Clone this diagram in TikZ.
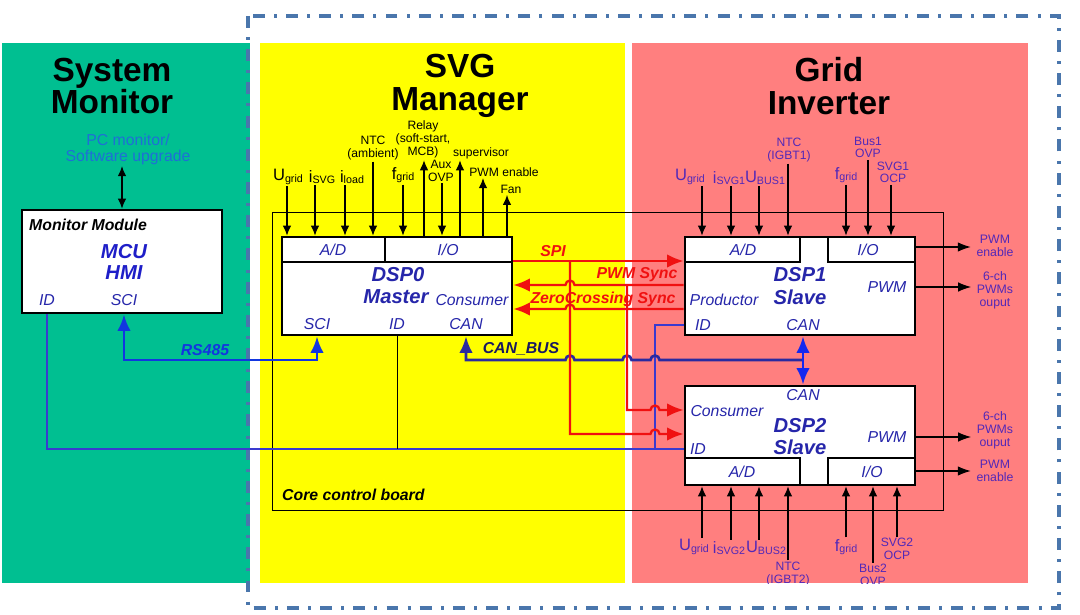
\documentclass[tikz,border=0pt]{standalone}
\usepackage{fontspec}
\setmainfont{Liberation Sans}
\usetikzlibrary{arrows.meta,positioning}

\definecolor{smgreen}{HTML}{00BF91}
\definecolor{svgyellow}{HTML}{FFFF00}
\definecolor{invpink}{HTML}{FF7F7F}
\definecolor{frameblue}{HTML}{4A76AC}
\definecolor{dspblue}{HTML}{2626AA}
\definecolor{mcublue}{HTML}{1E1EC8}
\definecolor{sigpurple}{HTML}{5228B8}
\definecolor{pcblue}{HTML}{1F6FD6}
\definecolor{rsblue}{HTML}{1236E0}
\definecolor{canblue}{HTML}{2A2AA0}
\definecolor{linkblue}{HTML}{1428F0}
\definecolor{idblue}{HTML}{3A3AD0}
\definecolor{sigred}{HTML}{F01010}

\newcommand{\sigsym}[2]{{\fontsize{9.4}{10}\selectfont #1}\raisebox{-0.8pt}{\fontsize{6.1}{7}\selectfont #2}}

\begin{document}
\begin{tikzpicture}[
        x=0.02cm, y=-0.02cm,
        bigtip/.tip={Latex[length=0.33cm,width=0.27cm]},
        dspbox/.style={draw, line width=1.6pt, fill=white, inner sep=0pt},
        cell/.style={line width=0.6pt},
        heading/.style={font=\fontsize{19}{18.7}\selectfont\bfseries, align=center},
        boxtxt/.style={font=\fontsize{9}{10}\selectfont\itshape, text=dspblue, inner sep=0.5pt},
        dsptitle/.style={font=\fontsize{11.5}{12}\selectfont\bfseries\itshape, text=dspblue, inner sep=0.5pt, align=center},
        siglbl/.style={font=\fontsize{6.9}{7.2}\selectfont, align=center, inner sep=0.8pt},
        invlbl/.style={siglbl, text=sigpurple},
        outlbl/.style={invlbl, font=\fontsize{7}{7.5}\selectfont},
        buslbl/.style={font=\fontsize{9}{10}\selectfont\bfseries\itshape, inner sep=0.5pt},
        redlbl/.style={buslbl, text=sigred},
        inarrow/.style={-{Latex[length=0.2cm,width=0.17cm]}, line width=0.6pt},
        outarrow/.style={-{Latex[length=0.26cm,width=0.19cm]}, line width=0.6pt},
        redsig/.style={sigred, line width=1.3pt, -bigtip},
        canbus/.style={canblue, line width=1.5pt},
        idline/.style={idblue, line width=0.7pt}
    ]
        \useasboundingbox (0,0) rectangle (1080,615);

        % panels and frame
        \fill[smgreen] (2,43) rectangle (250,583);
        \fill[svgyellow] (260,43) rectangle (625,583);
        \fill[invpink] (632,43) rectangle (1028,583);
        \draw[frameblue, line width=2.3pt, dash pattern=on 6.8pt off 5.2pt on 1.7pt off 5.2pt] (248,16) rectangle (1059,608);

        \node[heading] (smhead) at (112,86) {System\\Monitor};
        \node[heading] (svghead) at (460,86) {SVG\\Manager};
        \node[heading] (invhead) at (829,86) {Grid\\Inverter};

        % core control board
        \draw[line width=0.5pt] (272,212) rectangle (943,510);
        \node[buslbl, anchor=west] (corelbl) at (281,495) {Core control board};

        % monitor module
        \node[dspbox, minimum width=4cm, minimum height=2.06cm] (mon) at (122,261.5) {};
        \node[buslbl, anchor=west] (monlbl) at (28,225) {Monitor Module};
        \node[dsptitle, text=mcublue] (mcu) at (124,262) {MCU\\HMI};
        \node[boxtxt] (mid) at (47,300) {ID};
        \node[boxtxt] (msci) at (124,300) {SCI};
        \node[siglbl, font=\fontsize{9}{9.2}\selectfont, text=pcblue] (pc) at (128,149) {PC monitor/\\Software upgrade};
        \draw[{Latex[length=0.2cm,width=0.17cm]}-{Latex[length=0.2cm,width=0.17cm]}, line width=0.6pt] (mon.north |- pc.south) -- (mon.north);

        % DSP0 master
        \node[dspbox, minimum width=4.6cm, minimum height=1.96cm] (dsp0) at (397,286) {};
        \draw[cell] (282,262) -- (512,262) (385,237) -- (385,262);
        \node[boxtxt] (d0ad) at (333,250) {A/D};
        \node[boxtxt] (d0io) at (448,250) {I/O};
        \node[dsptitle] (d0name) at (398,275) {DSP0};
        \node[dsptitle] (d0role) at (396,297) {Master};
        \node[boxtxt] (d0cons) at (472,300) {Consumer};
        \node[boxtxt] (d0sci) at (317,324) {SCI};
        \node[boxtxt] (d0id) at (397,324) {ID};
        \node[boxtxt] (d0can) at (466,324) {CAN};

        % DSP1 slave
        \node[dspbox, minimum width=4.6cm, minimum height=1.96cm] (dsp1) at (800,286) {};
        \draw[cell] (685,262) -- (800,262) -- (800,237) (828,237) -- (828,262) -- (915,262);
        \node[boxtxt] (d1ad) at (743,250) {A/D};
        \node[boxtxt] (d1io) at (868,250) {I/O};
        \node[dsptitle] (d1name) at (800,275) {DSP1};
        \node[dsptitle] (d1role) at (800,297) {Slave};
        \node[boxtxt] (d1prod) at (724,300) {Productor};
        \node[boxtxt] (d1pwm) at (887,287) {PWM};
        \node[boxtxt] (d1id) at (703,325) {ID};
        \node[boxtxt] (d1can) at (803,325) {CAN};

        % DSP2 slave
        \node[dspbox, minimum width=4.6cm, minimum height=1.98cm] (dsp2) at (800,435.5) {};
        \draw[cell] (685,458) -- (800,458) -- (800,485) (828,485) -- (828,458) -- (915,458);
        \node[boxtxt] (d2can) at (803,395) {CAN};
        \node[boxtxt] (d2cons) at (727,411) {Consumer};
        \node[dsptitle] (d2name) at (800,426) {DSP2};
        \node[dsptitle] (d2role) at (800,447) {Slave};
        \node[boxtxt] (d2pwm) at (887,437) {PWM};
        \node[boxtxt] (d2id) at (698,449) {ID};
        \node[boxtxt] (d2ad) at (742,472) {A/D};
        \node[boxtxt] (d2io) at (872,472) {I/O};

        % SVG manager signals
        \node[siglbl] (ug0) at (288,177) {\sigsym{U}{grid}};
        \node[siglbl] (isvg0) at (322,177) {\sigsym{i}{SVG}};
        \node[siglbl] (iload0) at (352,177) {\sigsym{i}{load}};
        \node[siglbl] (ntc0) at (373,148) {NTC\\(ambient)};
        \node[siglbl] (fg0) at (403,175) {\sigsym{f}{grid}};
        \node[siglbl, font=\fontsize{6.9}{7.6}\selectfont] (relay0) at (423,139.5) {Relay\\(soft-start,\\MCB)};
        \node[siglbl] (aux0) at (441,171) {Aux\\OVP};
        \node[siglbl] (sup0) at (481,153) {supervisor};
        \node[siglbl] (pwmen0) at (504,172) {PWM enable};
        \node[siglbl] (fan0) at (511,189) {Fan};

        \draw[inarrow] (ug0.south -| 287,0) -- (dsp0.north -| 287,0);
        \draw[inarrow] (isvg0.south -| 315,0) -- (dsp0.north -| 315,0);
        \draw[inarrow] (iload0.south -| 345,0) -- (dsp0.north -| 345,0);
        \draw[inarrow] (ntc0.south -| 373,0) -- (dsp0.north -| 373,0);
        \draw[inarrow] (fg0.south -| 403,0) -- (dsp0.north -| 403,0);
        \draw[inarrow] (dsp0.north -| 424,0) -- (relay0.south -| 424,0);
        \draw[inarrow] (aux0.south -| 442,0) -- (dsp0.north -| 442,0);
        \draw[inarrow] (dsp0.north -| 460,0) -- (sup0.south -| 460,0);
        \draw[inarrow] (dsp0.north -| 483,0) -- (pwmen0.south -| 483,0);
        \draw[inarrow, {Latex[length=0.2cm,width=0.17cm]}-] (fan0.south -| 507,0) -- (dsp0.north -| 507,0);

        % grid inverter signals, DSP1
        \node[invlbl] (ug1) at (690,177) {\sigsym{U}{grid}};
        \node[invlbl] (isvg1) at (729,178) {\sigsym{i}{SVG1}};
        \node[invlbl] (ubus1) at (765,178) {\sigsym{U}{BUS1}};
        \node[invlbl] (ntc1) at (789,150) {NTC\\(IGBT1)};
        \node[invlbl] (fg1) at (846,175) {\sigsym{f}{grid}};
        \node[invlbl] (bus1) at (868,147.5) {Bus1\\OVP};
        \node[invlbl] (ocp1) at (893,172.5) {SVG1\\OCP};

        \draw[inarrow] (ug1.south -| 702,0) -- (dsp1.north -| 702,0);
        \draw[inarrow] (isvg1.south -| 731,0) -- (dsp1.north -| 731,0);
        \draw[inarrow] (ubus1.south -| 759,0) -- (dsp1.north -| 759,0);
        \draw[inarrow] (ntc1.south -| 788,0) -- (dsp1.north -| 788,0);
        \draw[inarrow] (fg1.south -| 846,0) -- (dsp1.north -| 846,0);
        \draw[inarrow] (bus1.south -| 868,0) -- (dsp1.north -| 868,0);
        \draw[inarrow] (ocp1.south -| 891,0) -- (dsp1.north -| 891,0);

        % grid inverter signals, DSP2
        \begin{scope}
            \clip (632,43) rectangle (1028,583);
            \node[invlbl] (ug2) at (694,547) {\sigsym{U}{grid}};
            \node[invlbl] (isvg2) at (729,548) {\sigsym{i}{SVG2}};
            \node[invlbl] (ubus2) at (766,548) {\sigsym{U}{BUS2}};
            \node[invlbl] (ntc2) at (788,574) {NTC\\(IGBT2)};
            \node[invlbl] (fg2) at (846,547) {\sigsym{f}{grid}};
            \node[invlbl] (bus2) at (873,575) {Bus2\\OVP};
            \node[invlbl] (ocp2) at (897,549) {SVG2\\OCP};
        \end{scope}

        \draw[inarrow] (ug2.north -| 702,0) -- (dsp2.south -| 702,0);
        \draw[inarrow] (isvg2.north -| 731,0) -- (dsp2.south -| 731,0);
        \draw[inarrow] (ubus2.north -| 759,0) -- (dsp2.south -| 759,0);
        \draw[inarrow] (ntc2.north -| 788,0) -- (dsp2.south -| 788,0);
        \draw[inarrow] (fg2.north -| 846,0) -- (dsp2.south -| 846,0);
        \draw[inarrow] (bus2.north -| 873,0) -- (dsp2.south -| 873,0);
        \draw[inarrow] (ocp2.north -| 897,0) -- (dsp2.south -| 897,0);

        % PWM outputs
        \node[outlbl] (pwmen1) at (995,246) {PWM\\enable};
        \node[outlbl] (pwms1) at (995,290.5) {6-ch\\PWMs\\ouput};
        \node[outlbl] (pwms2) at (995,430.5) {6-ch\\PWMs\\ouput};
        \node[outlbl] (pwmen2) at (995,470.5) {PWM\\enable};
        \draw[outarrow, shorten >=0.08cm] (dsp1.east |- 0,247) -- (pwmen1.west |- 0,247);
        \draw[outarrow, shorten >=0.08cm] (dsp1.east |- d1pwm) -- (pwms1.west |- d1pwm);
        \draw[outarrow, shorten >=0.08cm] (dsp2.east |- d2pwm) -- (pwms2.west |- d2pwm);
        \draw[outarrow, shorten >=0.08cm] (dsp2.east |- 0,471) -- (pwmen2.west |- 0,471);

        % RS485 and ID lines
        \draw[rsblue, line width=1.6pt, bigtip-bigtip] (msci |- mon.south) |- (d0sci |- 0,360) -- (d0sci |- dsp0.south);
        \node[buslbl, text=rsblue] (rslbl) at (205,350) {RS485};
        \draw[idline] (mid |- mon.south) |- (dsp2.west |- d2id);
        \draw[line width=0.5pt] (d0id |- dsp0.south) -- (d0id |- d2id);
        \draw[idline] (dsp1.west |- d1id) -| (655,0 |- d2id);

        % CAN bus
        \draw[canbus, bigtip-] (d0can |- dsp0.south) |- (565.5,360)
            arc[start angle=180, end angle=0, radius=0.09cm] -- (622.5,360)
            arc[start angle=180, end angle=0, radius=0.09cm] -- (650.5,360)
            arc[start angle=180, end angle=0, radius=0.09cm] -- (d1can |- 0,360);
        \draw[linkblue, line width=1.6pt, bigtip-bigtip] (d1can |- dsp1.south) -- (d1can |- dsp2.north);
        \node[buslbl, text=canblue!60!black] (canlbl) at (521,349) {CAN\_BUS};

        % SPI and sync lines
        \coordinate (spitap) at (570,261);
        \coordinate (synctap) at (627,285);
        \draw[redsig] (dsp0.east |- spitap) -- (dsp1.west |- spitap);
        \draw[redsig] (spitap) |- (650.5,434)
            arc[start angle=180, end angle=0, radius=0.09cm] -- (dsp2.west |- 0,434);
        \draw[redsig] (dsp1.west |- synctap) -- (574.5,285)
            arc[start angle=0, end angle=180, radius=0.09cm] -- (dsp0.east |- synctap);
        \draw[redsig] (dsp1.west |- 0,309) -- (574.5,309)
            arc[start angle=0, end angle=180, radius=0.09cm] -- (dsp0.east |- 0,309);
        \draw[redsig] (synctap) |- (650.5,410)
            arc[start angle=180, end angle=0, radius=0.09cm] -- (dsp2.west |- 0,410);

        \node[redlbl] (spilbl) at (553,251) {SPI};
        \node[redlbl] (pwmlbl) at (637,275) {PWM Sync};
        \node[redlbl] (zclbl) at (603,299) {ZeroCrossing Sync};
    \end{tikzpicture}
\end{document}
